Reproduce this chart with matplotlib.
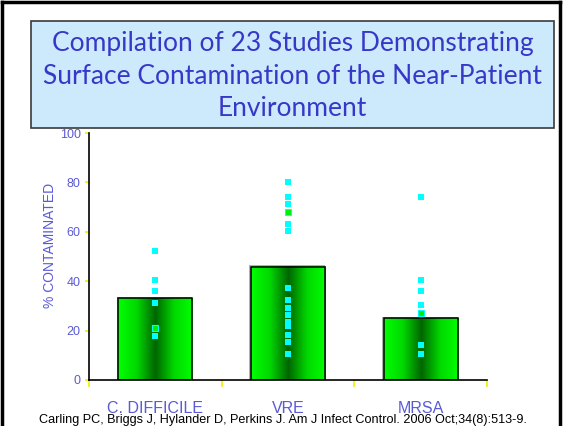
import numpy as np
import matplotlib.pyplot as plt
from matplotlib.colors import LinearSegmentedColormap
from matplotlib.patches import Rectangle
from matplotlib.lines import Line2D

categories = ['C. DIFFICILE', 'VRE', 'MRSA']
bar_means = [33.1, 45.9, 25.0]
cdiff_pts = [52.1, 40.4, 36.0, 31.2, 20.9, 17.8]
vre_pts = [80.3, 74.0, 71.3, 68.2, 63.2, 60.2, 37.1, 32.3, 29.1, 26.2, 23.5, 21.8, 18.2, 15.3, 10.4]
mrsa_pts = [74.1, 40.4, 36.0, 30.2, 27.0, 14.2, 10.4]
# points drawn with a green centre in the original
mixed_pts = [[20.9], [68.2], [27.0]]
study_pts = [cdiff_pts, vre_pts, mrsa_pts]

title = 'Compilation of 23 Studies Demonstrating\nSurface Contamination of the Near-Patient\nEnvironment'
citation = 'Carling PC, Briggs J, Hylander D, Perkins J. Am J Infect Control. 2006 Oct;34(8):513-9.'

blue = '#5a5ad8'
narrow = ['Liberation Sans Narrow', 'Liberation Sans', 'DejaVu Sans']

fig = plt.figure(figsize=(5.63, 4.26), dpi=100)
W, H = 563, 426

# page frame
for xs, ys in [([1.5, 1.5], [0, H - 1.5]), ([1.5, W - 3], [H - 1.5, H - 1.5]), ([W - 3, W - 3], [H - 1.5, 0])]:
    fig.add_artist(Line2D(np.array(xs) / W, np.array(ys) / H, color='black', lw=2.5))

# title box
bx0, bx1, by0, by1 = 31, 554, 426 - 128, 426 - 21
fig.add_artist(Rectangle((bx0 / W, by0 / H), (bx1 - bx0) / W, (by1 - by0) / H,
                         facecolor='#cdeafc', edgecolor='#3a3a3a', lw=1.2))
fig.text(0.5 * (bx0 + bx1) / W, (426 - 76) / H, title, ha='center', va='center',
         fontsize=19, color='#3838c8', family=['Lato', 'DejaVu Sans'], linespacing=1.4)

ax = fig.add_axes([89 / W, 46 / H, (487 - 89) / W, 247 / H])
ax.set_xlim(0, 3)
ax.set_ylim(0, 100)

cmap = LinearSegmentedColormap.from_list('cyl', ['#00ff00', '#00d800', '#006600', '#00d800', '#00ff00'])
grad = np.linspace(0, 1, 200).reshape(1, -1)
bw = 0.56
for i, v in enumerate(bar_means):
    x0 = i + 0.5 - bw / 2
    ax.add_patch(Rectangle((x0 - 0.012, 0), bw + 0.012, v + 0.6, facecolor='#b0b0b0', edgecolor='none', zorder=1))
    ax.imshow(grad, cmap=cmap, extent=(x0, x0 + bw, 0, v), aspect='auto', zorder=2)
    ax.add_patch(Rectangle((x0, 0), bw, v, facecolor='none', edgecolor='black', lw=1.1, zorder=3))

for i, pts in enumerate(study_pts):
    ax.plot([i + 0.5] * len(pts), pts, 's', color='#00ffff', ms=3.8, mew=0, zorder=4)
    ax.plot([i + 0.5] * len(mixed_pts[i]), mixed_pts[i], 's', mfc='#00ee00', mec='#00ffff', ms=3.8, mew=0.8, zorder=5)

ax.set_xlim(0, 3)
ax.set_ylim(0, 100)

for s in ['top', 'right']:
    ax.spines[s].set_visible(False)
ax.spines['left'].set_linewidth(1.2)
ax.spines['bottom'].set_linewidth(1.2)

ax.set_yticks(range(0, 101, 20))
ax.tick_params(axis='y', colors='#f0f000', length=3, width=1.2, labelcolor=blue, labelsize=9, pad=3)
for t in ax.get_yticklabels():
    t.set_family(narrow)

ax.set_xticks([0, 1, 2, 3])
ax.set_xticklabels([])
ax.tick_params(axis='x', which='major', colors='#f0f000', length=5, width=1.2)
ax.set_xticks([0.5, 1.5, 2.5], minor=True)
ax.set_xticklabels(categories, minor=True, color=blue, fontsize=11.5, family=narrow)
ax.tick_params(axis='x', which='minor', length=0, pad=15)

ax.set_ylabel('% CONTAMINATED', color=blue, fontsize=10, family=narrow)
ax.yaxis.set_label_coords(-32 / 398, (380 - 245.5) / 247)

fig.text(283 / W, (426 - 420) / H, citation, ha='center', va='center', fontsize=9.1,
         color='black', family=['Liberation Sans', 'DejaVu Sans'], zorder=5)

fig.savefig('out.png', dpi=100)
